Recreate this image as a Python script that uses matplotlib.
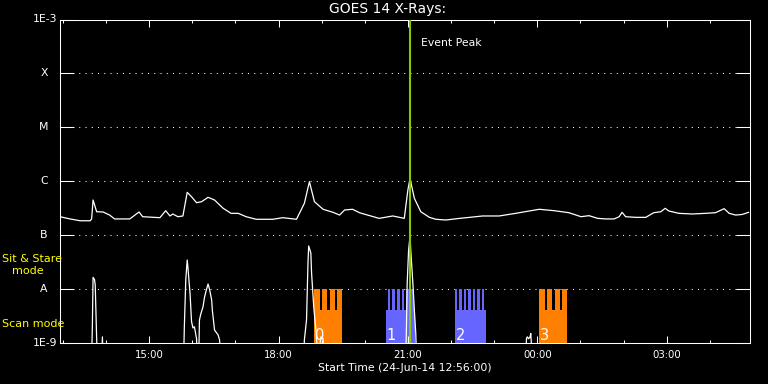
import matplotlib
matplotlib.use('Agg')
import matplotlib.pyplot as plt
from matplotlib.ticker import FixedLocator, NullFormatter

# ---------------- data ----------------
START_TIME = "12:56"
START_LABEL = "Start Time (24-Jun-14 12:56:00)"
TITLE = "GOES 14 X-Rays:"

# GOES long channel (1-8 A), W/m^2
long_times = ['12:56', '13:10', '13:24', '13:38', '13:40', '13:42', '13:47', '13:56', '14:05',
              '14:12', '14:33', '14:46', '14:51', '15:15', '15:23', '15:29', '15:33', '15:40',
              '15:47', '15:53', '15:59', '16:06', '16:13', '16:22', '16:31', '16:43', '16:54',
              '17:04', '17:15', '17:29', '17:52', '18:06', '18:25', '18:36', '18:43', '18:50',
              '19:02', '19:16', '19:25', '19:32', '19:43', '19:53', '20:20', '20:39', '20:55',
              '21:00', '21:03', '21:09', '21:18', '21:30', '21:39', '21:53', '22:12', '22:26',
              '22:44', '23:07', '23:30', '23:49', '00:03', '00:24', '00:44', '01:01', '01:12',
              '01:24', '01:35', '01:47', '01:54', '01:58', '02:03', '02:17', '02:31', '02:42',
              '02:52', '02:58', '03:03', '03:17', '03:36', '03:54', '04:08', '04:20', '04:27',
              '04:36', '04:45', '04:54']
long_flux = [2.20e-7, 2.00e-7, 1.85e-7, 1.85e-7, 2.00e-7, 4.49e-7, 2.72e-7, 2.69e-7, 2.36e-7,
             2.00e-7, 2.00e-7, 2.69e-7, 2.20e-7, 2.11e-7, 2.84e-7, 2.27e-7, 2.47e-7, 2.20e-7,
             2.27e-7, 6.24e-7, 5.16e-7, 4.00e-7, 4.18e-7, 5.04e-7, 4.49e-7, 3.15e-7, 2.54e-7,
             2.54e-7, 2.20e-7, 1.97e-7, 1.97e-7, 2.11e-7, 1.97e-7, 3.90e-7, 9.80e-7, 4.18e-7,
             3.02e-7, 2.65e-7, 2.36e-7, 2.93e-7, 3.02e-7, 2.60e-7, 2.05e-7, 2.27e-7, 2.05e-7,
             6.88e-7, 1.13e-6, 4.83e-7, 2.72e-7, 2.14e-7, 1.97e-7, 1.91e-7, 2.05e-7, 2.14e-7,
             2.27e-7, 2.27e-7, 2.54e-7, 2.81e-7, 3.02e-7, 2.84e-7, 2.61e-7, 2.20e-7, 2.30e-7,
             2.05e-7, 2.00e-7, 2.00e-7, 2.20e-7, 2.65e-7, 2.20e-7, 2.14e-7, 2.14e-7, 2.61e-7,
             2.72e-7, 3.15e-7, 2.81e-7, 2.54e-7, 2.47e-7, 2.54e-7, 2.61e-7, 3.10e-7, 2.54e-7,
             2.36e-7, 2.42e-7, 2.65e-7]

# GOES short channel (0.5-4 A), W/m^2 (values below 1E-9 fall off the plot)
short_times = ['12:56', '13:40', '13:41', '13:42', '13:44', '13:45', '13:47', '13:48',
               '13:54', '13:55', '13:56',
               '15:48', '15:49', '15:51', '15:53', '15:54', '15:57', '15:59', '16:01', '16:03',
               '16:06', '16:07', '16:09', '16:10', '16:12', '16:15', '16:17', '16:19', '16:22',
               '16:24', '16:27', '16:28', '16:31', '16:36', '16:38', '16:40',
               '18:35', '18:36', '18:39', '18:41', '18:42', '18:45', '18:46', '18:49', '18:52',
               '18:55', '18:59', '19:02', '19:03',
               '20:57', '20:58', '20:59', '21:01', '21:03', '21:04', '21:07', '21:09', '21:11',
               '21:12',
               '23:44', '23:45', '23:46', '23:48', '23:50', '23:51', '23:53', '04:56']
short_flux = [5e-10, 5e-10, 2.0e-9, 1.65e-8, 1.5e-8, 1.2e-8, 1.2e-9, 5e-10,
              5e-10, 1.3e-9, 5e-10,
              5e-10, 2.0e-9, 1.5e-8, 3.46e-8, 2.5e-8, 8.0e-9, 2.5e-9, 1.9e-9, 2.0e-9,
              1.2e-9, 5e-10, 5e-10, 2.67e-9, 3.5e-9, 4.7e-9, 7.0e-9, 9.0e-9, 1.24e-8,
              1.0e-8, 6.3e-9, 4.0e-9, 1.74e-9, 1.41e-9, 1.14e-9, 5e-10,
              5e-10, 1.14e-9, 2.67e-9, 3.05e-8, 6.3e-8, 4.67e-8, 2.0e-8, 4.7e-9, 1.74e-9,
              5e-10, 1.3e-9, 1.2e-9, 5e-10,
              5e-10, 1.9e-9, 1.24e-8, 5.3e-8, 9.5e-8, 5.3e-8, 1.24e-8, 4.1e-9, 1.5e-9,
              5e-10,
              5e-10, 1.2e-9, 1.3e-9, 1.2e-9, 1.3e-9, 1.5e-9, 5e-10, 5e-10]

ytick_values = [1e-9, 1e-8, 1e-7, 1e-6, 1e-5, 1e-4, 1e-3]
ytick_labels = ['1E-9', 'A', 'B', 'C', 'M', 'X', '1E-3']
xtick_labels = ['15:00', '18:00', '21:00', '00:00', '03:00']
END_TIME = '04:56'

event_peak_time = '21:03'
event_label = 'Event Peak'

obs_labels = ['0', '1', '2', '3']
obs_start = ['18:50', '20:29', '22:05', '00:03']
obs_end = ['19:29', '21:10', '22:49', '00:42']
obs_teeth_start = ['18:50', '20:32', '22:05', '00:03']
obs_teeth_end = ['19:29', '21:08', '22:46', '00:42']
obs_teeth = [4, 6, 7, 4]
obs_colors = ['#ff8000', '#6666ff', '#6666ff', '#ff8000']
scan_level = 4.1e-9
sit_stare_level = 1e-8

# ---------------- helpers ----------------
def hours(t):
    hh, mm = map(int, t.split(':'))
    return hh + mm / 60.0

T0 = hours(START_TIME)

def to_x(t):
    h = hours(t)
    if h < 12:
        h += 24
    return h - T0

plt.rcParams['font.family'] = ['DejaVu Sans']
FS_TITLE = 10.0
FS_LABEL = 7.8
FS_TICK = 7.3
FS_MODE = 8.0
FS_BIG = 10.5

W, H = 768, 384
fig = plt.figure(figsize=(W / 100, H / 100), dpi=100, facecolor='black')
ax = fig.add_axes([60 / W, 41 / H, 690 / W, 323.5 / H], facecolor='black')
ax.set_yscale('log')
ax.set_ylim(ytick_values[0], ytick_values[-1])
ax.set_xlim(0, to_x(END_TIME))

for s in ax.spines.values():
    s.set_color('white')
    s.set_linewidth(0.75)

# y ticks: solid inward ticks on both sides, dotted grid between
ax.yaxis.set_major_locator(FixedLocator(ytick_values))
ax.yaxis.set_minor_locator(FixedLocator([]))
ax.yaxis.set_major_formatter(NullFormatter())
ax.yaxis.set_minor_formatter(NullFormatter())
ax.tick_params(axis='y', which='major', direction='in', length=10.1, width=0.75,
               left=True, right=True, color='white')
for v in ytick_values[1:-1]:
    ax.axhline(v, color='white', lw=0.75, linestyle=(0, (1, 5)), zorder=0.5)

ytr = ax.get_yaxis_transform()
for v, lab in zip(ytick_values, ytick_labels):
    if lab.startswith('1E'):
        ax.text(-3 / 690, v, lab, transform=ytr, ha='right', va='center',
                color='white', fontsize=FS_LABEL, clip_on=False)
    else:
        ax.text(-16 / 690, v, lab, transform=ytr, ha='center', va='center',
                color='white', fontsize=FS_LABEL, clip_on=False)

# x ticks
major_pos = [to_x(t) for t in xtick_labels]
ax.set_xticks(major_pos)
ax.set_xticklabels(xtick_labels)
minor_pos = [h - T0 for h in range(13, 29)]
ax.xaxis.set_minor_locator(FixedLocator(minor_pos))
ax.tick_params(axis='x', which='major', direction='in', length=4.7, width=0.75,
               top=True, bottom=True, color='white', labelcolor='white',
               labelsize=FS_TICK, pad=5.0)
ax.tick_params(axis='x', which='minor', direction='in', length=2.4, width=0.75,
               top=True, bottom=True, color='white')

# observation bars
for lab, s, e, ts, te, n, c in zip(obs_labels, obs_start, obs_end, obs_teeth_start,
                                   obs_teeth_end, obs_teeth, obs_colors):
    xs, xe = to_x(s), to_x(e)
    ax.bar(xs, scan_level - ytick_values[0], width=xe - xs, bottom=ytick_values[0],
           align='edge', color=c, linewidth=0, zorder=1)
    gf = 0.3 if n <= 4 else 0.45
    L = to_x(te) - to_x(ts)
    pitch = L / (n - gf)
    for k in range(n):
        ax.bar(to_x(ts) + k * pitch, sit_stare_level - ytick_values[0],
               width=pitch * (1 - gf), bottom=ytick_values[0], align='edge',
               color=c, linewidth=0, zorder=1)
    ax.annotate(lab, xy=(xs, ytick_values[0]), xytext=(1, 3), textcoords='offset pixels',
                ha='left', va='baseline', color='white', fontsize=FS_BIG, zorder=3)

# curves
ax.plot([to_x(t) for t in long_times], long_flux, color='white', lw=0.9, zorder=2)
ax.plot([to_x(t) for t in short_times], short_flux, color='white', lw=0.9, zorder=2)

# event peak
xev = to_x(event_peak_time)
ax.axvline(xev, color='#88c800', lw=1.5, zorder=4)
ax.annotate(event_label, xy=(xev, ytick_values[-1]), xytext=(10.5, -24),
            textcoords='offset pixels', ha='left', va='center', color='white',
            fontsize=FS_LABEL)

# titles / labels
fig.text(388 / W, 1 - 9 / H, TITLE, ha='center', va='center', color='white',
         fontsize=FS_TITLE)
fig.text(405 / W, 1 - 368 / H, START_LABEL, ha='center', va='center', color='white',
         fontsize=FS_LABEL)
fig.text(2 / W, 1 - 259 / H, 'Sit & Stare', ha='left', va='center', color='#ffff00',
         fontsize=FS_MODE)
fig.text(12 / W, 1 - 271 / H, 'mode', ha='left', va='center', color='#ffff00',
         fontsize=FS_MODE)
fig.text(2 / W, 1 - 324 / H, 'Scan mode', ha='left', va='center', color='#ffff00',
         fontsize=FS_MODE)

fig.savefig('out.png', dpi=100, facecolor='black')
